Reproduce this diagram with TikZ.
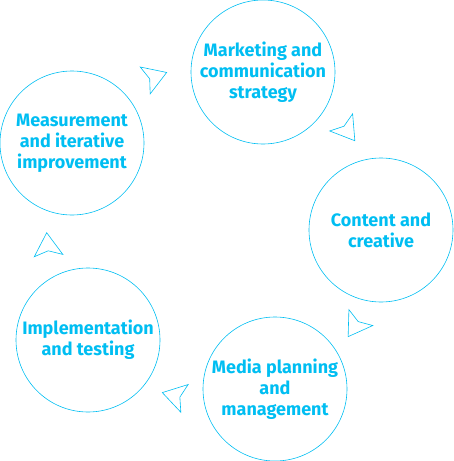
\documentclass[tikz,border=0pt]{standalone}
\usepackage{fontspec}
\newfontfamily\cyclefont{Fira Sans}
\usetikzlibrary{arrows.meta,decorations.markings}
\definecolor{cyclecyan}{RGB}{0,190,242}

\begin{document}
\begin{tikzpicture}[x=1pt,y=1pt,
  stage/.style={draw=cyclecyan, line width=0.6pt, circle, minimum size=144pt, inner sep=0pt,
    align=center, text=cyclecyan, font=\cyclefont\bfseries\fontsize{18}{21}\selectfont},
  flow/.style={decoration={markings, mark=at position 0.5 with
    {\arrow[xshift=12pt]{Stealth[open, length=24pt, width=30pt, inset=5pt, line width=0.6pt, color=cyclecyan]}}},
    decorate}]
\useasboundingbox (0,0) rectangle (454,-461);
\node[stage] (mkt) at (263,-72) {Marketing and\\communication\\strategy};
\node[stage] (content) at (381,-230) {Content and\\creative};
\node[stage] (media) at (275,-389) {Media planning\\and\\management};
\node[stage] (impl) at (88,-340) {Implementation\\and testing};
\node[stage] (meas) at (72,-143) {Measurement\\and iterative\\improvement};
% arrows round the cycle
\path[flow] (meas) to[bend left=21] (mkt);
\path[flow] (mkt) to[bend left=21] (content);
\path[flow] (content) to[bend left=21] (media);
\path[flow] (media) to[bend left=21] (impl);
\path[flow] (impl) to[bend left=21] (meas);
\end{tikzpicture}
\end{document}
